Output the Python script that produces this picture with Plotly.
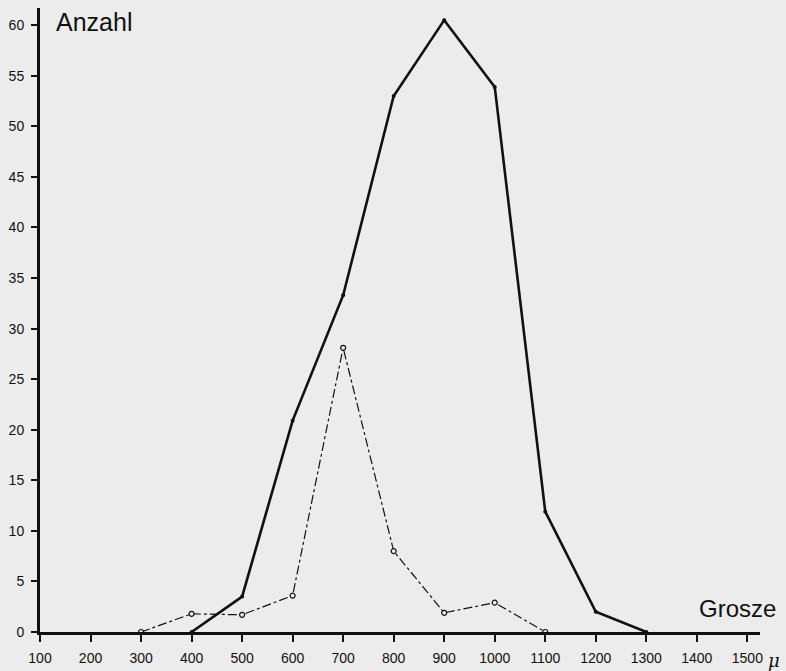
import plotly.graph_objects as go

# Data
groesse = [100, 200, 300, 400, 500, 600, 700, 800, 900, 1000, 1100, 1200, 1300, 1400, 1500]
x_solid = [400, 500, 600, 700, 800, 900, 1000, 1100, 1200, 1300]
y_solid = [0, 3.5, 20.9, 33.3, 53.0, 60.5, 53.9, 11.9, 2.0, 0]
x_dash = [300, 400, 500, 600, 700, 800, 900, 1000, 1100]
y_dash = [0, 1.8, 1.7, 3.6, 28.1, 8.0, 1.9, 2.9, 0]
y_ticks = [0, 5, 10, 15, 20, 25, 30, 35, 40, 45, 50, 55, 60]

ink = "#111111"
bg = "#ececec"
font = "Liberation Sans"

fig = go.Figure()
fig.add_trace(go.Scatter(
    x=x_solid, y=y_solid, mode="lines+markers",
    line=dict(color=ink, width=2.6),
    marker=dict(color=ink, size=4),
    cliponaxis=False, showlegend=False))
fig.add_trace(go.Scatter(
    x=x_dash, y=y_dash, mode="lines+markers",
    line=dict(color=ink, width=1.2, dash="dashdot"),
    marker=dict(color=bg, size=5, symbol="circle", line=dict(color=ink, width=1.2)),
    cliponaxis=False, showlegend=False))

fig.update_layout(
    width=786, height=671,
    margin=dict(l=40, r=26, t=8, b=39, autoexpand=False),
    paper_bgcolor=bg, plot_bgcolor=bg,
    font=dict(family=font, color=ink, size=14),
    xaxis=dict(range=[100, 1525], tickvals=groesse, ticktext=[str(v) for v in groesse],
               showgrid=False, zeroline=False, showline=True, linecolor=ink, linewidth=3,
               ticks="outside", ticklen=7, tickwidth=1.5, tickcolor=ink, automargin=False,
               ticklabelstandoff=4, tickfont=dict(size=14)),
    yaxis=dict(range=[0, 61.7], tickvals=y_ticks, ticktext=[str(v) for v in y_ticks],
               showgrid=False, zeroline=False, showline=True, linecolor=ink, linewidth=3,
               ticks="outside", ticklen=6, tickwidth=1.5, tickcolor=ink, automargin=False,
               ticklabelstandoff=4, tickfont=dict(size=14)),
    annotations=[
        dict(text="Anzahl", xref="paper", yref="paper", x=0.02, y=1.004, xanchor="left",
             yanchor="top", showarrow=False, font=dict(size=25, family=font, color=ink)),
        dict(text="Grosze", xref="paper", yref="paper", x=1.025, y=0.013, xanchor="right",
             yanchor="bottom", showarrow=False, font=dict(size=24, family=font, color=ink)),
        dict(text="<i>μ</i>", xref="paper", yref="paper", x=1.008, y=-0.045, xanchor="left",
             yanchor="middle", showarrow=False, font=dict(size=18, family="DejaVu Serif", color=ink)),
    ],
)

fig.write_html("out.html", config={"displayModeBar": False},
               post_script="document.body.style.margin='0';document.body.style.overflow='hidden';")
